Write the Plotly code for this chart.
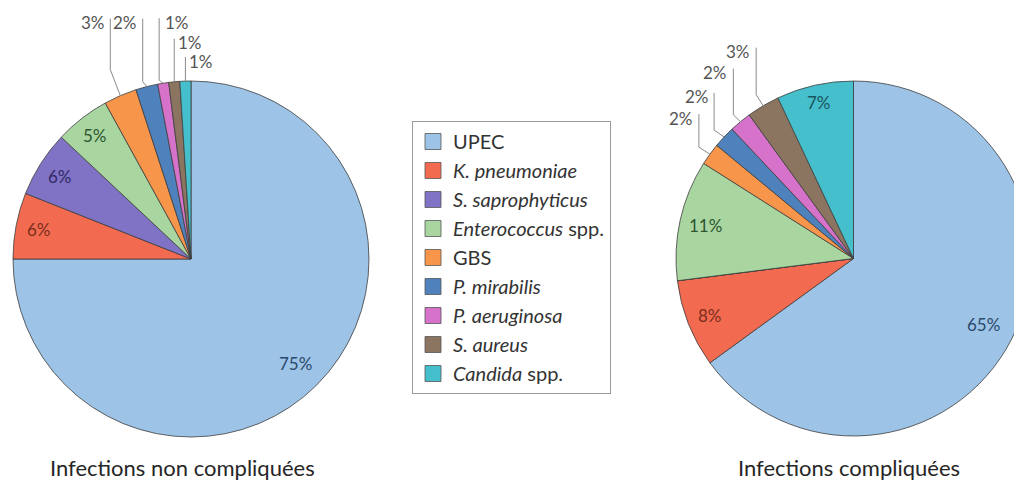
import math
import plotly.graph_objects as go

# ---------------- data ----------------
labels = ["UPEC", "K. pneumoniae", "S. saprophyticus", "Enterococcus spp.", "GBS",
          "P. mirabilis", "P. aeruginosa", "S. aureus", "Candida spp."]
legend_names = ["UPEC", "<i>K. pneumoniae</i>", "<i>S. saprophyticus</i>",
                "<i>Enterococcus</i> spp.", "GBS", "<i>P. mirabilis</i>",
                "<i>P. aeruginosa</i>", "<i>S. aureus</i>", "<i>Candida</i> spp."]
uncomplicated = [75, 6, 6, 5, 3, 2, 1, 1, 1]
complicated = [65, 8, 0, 11, 2, 2, 2, 3, 7]
titles = ["Infections non compliquées", "Infections compliquées"]

# ---------------- style ----------------
W, H = 1040, 481
OFF = 8  # page body margin
colors = ["#9DC3E6", "#F26B50", "#8072C4", "#A8D5A0", "#F7964A",
          "#4F81BD", "#D672C9", "#8C7560", "#45BFCB"]
inside_text_colors = ["#2B4A6B", "#7A2E1E", "#2F2A66", "#2E5530", "#6b3a10",
                      "#1f3550", "#5a2455", "#3b2d22", "#1B5560"]
FONT = "Lato"

# pie placement in page pixels (left, top, right, bottom)
pie_boxes = [(13, 81, 369, 437), (676, 81, 1031, 436)]
title_pos = [(182, 467), (849, 467)]

# label style per pie: index -> ("in", radial fraction) or ("out", line dx, rise, knee, side, gap)
label_style = [
    {0: ("in", 0.83), 1: ("in", 0.87), 2: ("in", 0.87), 3: ("in", 0.88),
     4: ("out", -10, 73, 26, "left", 3), 5: ("out", -4, 64, 5, "left", 4),
     6: ("out", -4, 61, 3, "right", 4), 7: ("out", 0, 39, 2, "right", 2),
     8: ("out", 0, 20, 1, "right", 2)},
    {0: ("in", 0.82), 1: ("in", 0.87), 3: ("in", 0.855), 8: ("in", 0.9),
     4: ("out", -11, 36, 7, "left", 4), 5: ("out", -10, 40, 7, "left", 3),
     6: ("out", -7, 49, 7, "left", 4), 7: ("out", -7, 54, 11, "left", 4)},
]

def px2paper(x, y):
    return (x - OFF) / W, 1 - (y - OFF) / H

fig = go.Figure()
annotations = []
shapes = []

for p, values in enumerate([uncomplicated, complicated]):
    l, t, r, b = pie_boxes[p]
    x0, y1 = px2paper(l, t)
    x1, y0 = px2paper(r, b)
    fig.add_trace(go.Pie(
        labels=labels, values=values, sort=False, direction="clockwise",
        marker=dict(colors=colors, line=dict(color="#3d3d3d", width=0.8)),
        textinfo="none", hoverinfo="label+percent", showlegend=False,
        domain=dict(x=[x0, x1], y=[y0, y1]),
    ))
    # geometry of the pie as plotly draws it
    cx, cy = (l + r) / 2, (t + b) / 2
    R = min(r - l, b - t) / 2
    total = sum(values)
    cum = 0
    for i, v in enumerate(values):
        if v == 0:
            continue
        mid = (cum + v / 2) / total * 2 * math.pi
        cum += v
        sx, sy = math.sin(mid), -math.cos(mid)
        txt = f"{round(100 * v / total)}%"
        st = label_style[p].get(i)
        if st is None:
            continue
        if st[0] == "in":
            f = st[1]
            ax_, ay_ = px2paper(cx + f * R * sx, cy + f * R * sy)
            annotations.append(dict(x=ax_, y=ay_, xref="paper", yref="paper", text=txt,
                                    xanchor="center", yanchor="middle",
                                    showarrow=False, font=dict(family=FONT, size=17,
                                                               color=inside_text_colors[i])))
        else:
            _, dx, rise, knee, side, gap = st
            Px, Py = cx + R * sx, cy + R * sy
            lx = Px + dx
            ly = Py - rise
            pts = [(lx, ly - 4), (lx, Py - knee), (Px, Py)]
            path = "M " + " L ".join(f"{px2paper(a, c)[0]:.5f},{px2paper(a, c)[1]:.5f}" for a, c in pts)
            shapes.append(dict(type="path", path=path, xref="paper", yref="paper",
                               line=dict(color="#8a8a8a", width=1)))
            if side == "left":
                tx, ty = px2paper(lx - gap, ly)
                xa = "right"
            else:
                tx, ty = px2paper(lx + gap, ly)
                xa = "left"
            annotations.append(dict(x=tx, y=ty, xref="paper", yref="paper", text=txt,
                                    showarrow=False, xanchor=xa, yanchor="middle",
                                    font=dict(family=FONT, size=17, color="#555555")))

# titles below pies
for p, ttl in enumerate(titles):
    tx, ty = px2paper(*title_pos[p])
    annotations.append(dict(x=tx, y=ty, xref="paper", yref="paper", text=ttl,
                            xanchor="center", yanchor="middle",
                            showarrow=False, font=dict(family=FONT, size=22, color="#262626")))

# legend entries
for i, name in enumerate(legend_names):
    fig.add_trace(go.Scatter(
        x=[None], y=[None], mode="markers", name=name, legendgroup=labels[i],
        marker=dict(symbol="square", size=16, color=colors[i],
                    line=dict(color="#555555", width=0.8)),
        hoverinfo="skip",
    ))

lx, ly = px2paper(412, 121)
fig.update_layout(
    width=W, height=H,
    margin=dict(l=0, r=0, t=0, b=0),
    paper_bgcolor="white", plot_bgcolor="white",
    xaxis=dict(visible=False), yaxis=dict(visible=False),
    showlegend=True,
    legend=dict(x=lx, y=ly, xanchor="left", yanchor="top",
                bordercolor="#9a9a9a", borderwidth=1, bgcolor="white",
                font=dict(family=FONT, size=20, color="#333333"),
                tracegroupgap=0, traceorder="grouped"),
    annotations=annotations, shapes=shapes,
)

fig.write_html("out.html")
